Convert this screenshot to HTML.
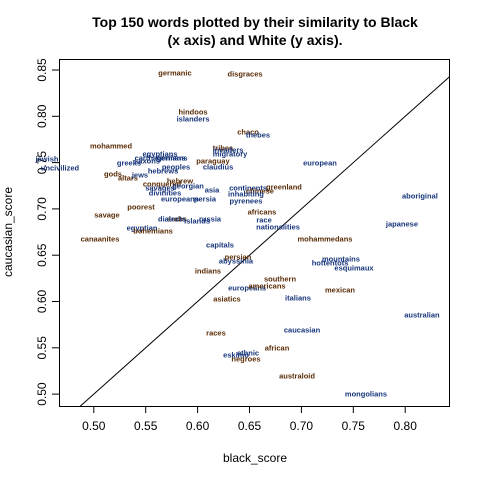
<!DOCTYPE html>
<html><head><meta charset="utf-8"><style>
body{margin:0;background:#fff;}
svg{display:block;font-family:"Liberation Sans",sans-serif;}
</style></head><body>
<svg id="chart" width="480" height="480" viewBox="0 0 480 480">
<text x="255" y="27" text-anchor="middle" font-size="14" font-weight="bold">Top 150 words plotted by their similarity to Black</text>
<text x="255" y="45" text-anchor="middle" font-size="14" font-weight="bold">(x axis) and White (y axis).</text>
<text x="255" y="462" text-anchor="middle" font-size="12">black_score</text>
<text x="0" y="0" transform="translate(12,232) rotate(-90)" text-anchor="middle" font-size="12">caucasian_score</text>
<rect x="59.5" y="59.5" width="390" height="347" fill="none" stroke="#000"/>
<g id="axes"></g>
<g id="marks"></g>
</svg>
<script>
const words=["germanic","disgraces","hindoos","islanders","chaco","thebes","mohammed","jewish","uncivilized","egyptians","greeks","saxons","carthagenians","germans","tribes","migratory","invaders","paraguay","claudius","peoples","hebrews","gods","altars","jews","european","hebrew","conquered","savages","georgian","divinities","asia","europeans","persia","continents","chinese","inhabiting","pyrenees","greenland","aboriginal","poorest","savage","africans","arabs","dialects","islands","russia","race","nationalities","japanese","egyptian","bohemians","canaanites","mohammedans","capitals","persian","abyssinia","mountains","hottentots","esquimaux","indians","southern","europeans","americans","mexican","asiatics","italians","australian","caucasian","races","african","eskimo","ethnic","negroes","australoid","mongolians"];
const blackScores=[0.5782,0.6457,0.5956,0.5956,0.6486,0.6582,0.5166,0.4549,0.4674,0.5638,0.5339,0.5513,0.5638,0.5753,0.6245,0.6312,0.6293,0.6148,0.6197,0.5792,0.5667,0.5185,0.5329,0.5445,0.7179,0.5830,0.5657,0.5638,0.5908,0.5686,0.6139,0.5830,0.6071,0.6486,0.6601,0.6466,0.6466,0.6832,0.8142,0.5455,0.5127,0.6620,0.5801,0.5753,0.5995,0.6120,0.6640,0.6775,0.7969,0.5465,0.5571,0.5060,0.7227,0.6216,0.6389,0.6370,0.7381,0.7276,0.7507,0.6100,0.6794,0.6477,0.6669,0.7372,0.6283,0.6967,0.8161,0.7006,0.6177,0.6765,0.6370,0.6486,0.6466,0.6958,0.7622];
const whiteScores=[0.8468,0.8457,0.8046,0.7971,0.7830,0.7798,0.7679,0.7539,0.7442,0.7593,0.7496,0.7517,0.7550,0.7550,0.7658,0.7593,0.7636,0.7517,0.7452,0.7452,0.7409,0.7377,0.7334,0.7366,0.7496,0.7301,0.7269,0.7226,0.7247,0.7172,0.7204,0.7107,0.7107,0.7226,0.7193,0.7161,0.7085,0.7237,0.7139,0.7021,0.6934,0.6967,0.6891,0.6891,0.6869,0.6891,0.6880,0.6805,0.6837,0.6794,0.6761,0.6675,0.6675,0.6610,0.6481,0.6437,0.6459,0.6416,0.6362,0.6329,0.6243,0.6146,0.6167,0.6124,0.6027,0.6038,0.5854,0.5692,0.5660,0.5498,0.5422,0.5444,0.5379,0.5196,0.5001];
const xTicks=[0.50,0.55,0.60,0.65,0.70,0.75,0.80];
const yTicks=[0.50,0.55,0.60,0.65,0.70,0.75,0.80,0.85];
const X=v=>93.8+(v-0.50)*1038;
const Y=v=>70+(0.85-v)*926;
const NS="http://www.w3.org/2000/svg";
const axes=document.getElementById('axes'),marks=document.getElementById('marks');
function mk(tag,attrs,parent){const e=document.createElementNS(NS,tag);for(const k in attrs)e.setAttribute(k,attrs[k]);parent.appendChild(e);return e;}
xTicks.forEach(t=>{const x=X(t);
 const l=mk('line',{x1:x,x2:x,y1:406.5,y2:413,stroke:'#000'},axes);
 
 
 const s=mk('text',{x:x,y:430,'text-anchor':'middle','font-size':12},axes);s.textContent=t.toFixed(2);
 
 });
yTicks.forEach(t=>{const y=Y(t);
 const l=mk('line',{x1:52,x2:59.5,y1:y,y2:y,stroke:'#000'},axes);
 
 
 const s=mk('text',{x:0,y:0,transform:`translate(46,${y}) rotate(-90)`,'text-anchor':'middle','font-size':12},axes);s.textContent=t.toFixed(2);
 
 });
const x0=0.50+(59.5-93.8)/1038, x1=0.50+(449.5-93.8)/1038;
const y0=0.85-(406.5-70)/926, y1=0.85-(59.5-70)/926;
const a=Math.max(x0,y0), b=Math.min(x1,y1);
const dl=mk('line',{x1:X(a),y1:Y(a),x2:X(b),y2:Y(b),stroke:'#000','stroke-width':1},marks);


const brown=new Set(["mohammed","poorest","canaanites","indians","mohammedans","greenland","africans","mexican","southern","races","african","negroes","australoid","hindoos","chaco","disgraces","germanic","savage","altars","conquered","hebrew","paraguay","persian","americans","asiatics","gods","arabs","bohemians","tribes","chinese"]);
words.forEach((w,i)=>{
 const t=mk('text',{x:X(blackScores[i]),y:Y(whiteScores[i])+2.5,'text-anchor':'middle','font-size':7.5,'font-weight':'bold',fill:brown.has(w)?'#5a2c06':'#17357a'},marks);
 t.textContent=w;
 
 
});
</script>
</body></html>
